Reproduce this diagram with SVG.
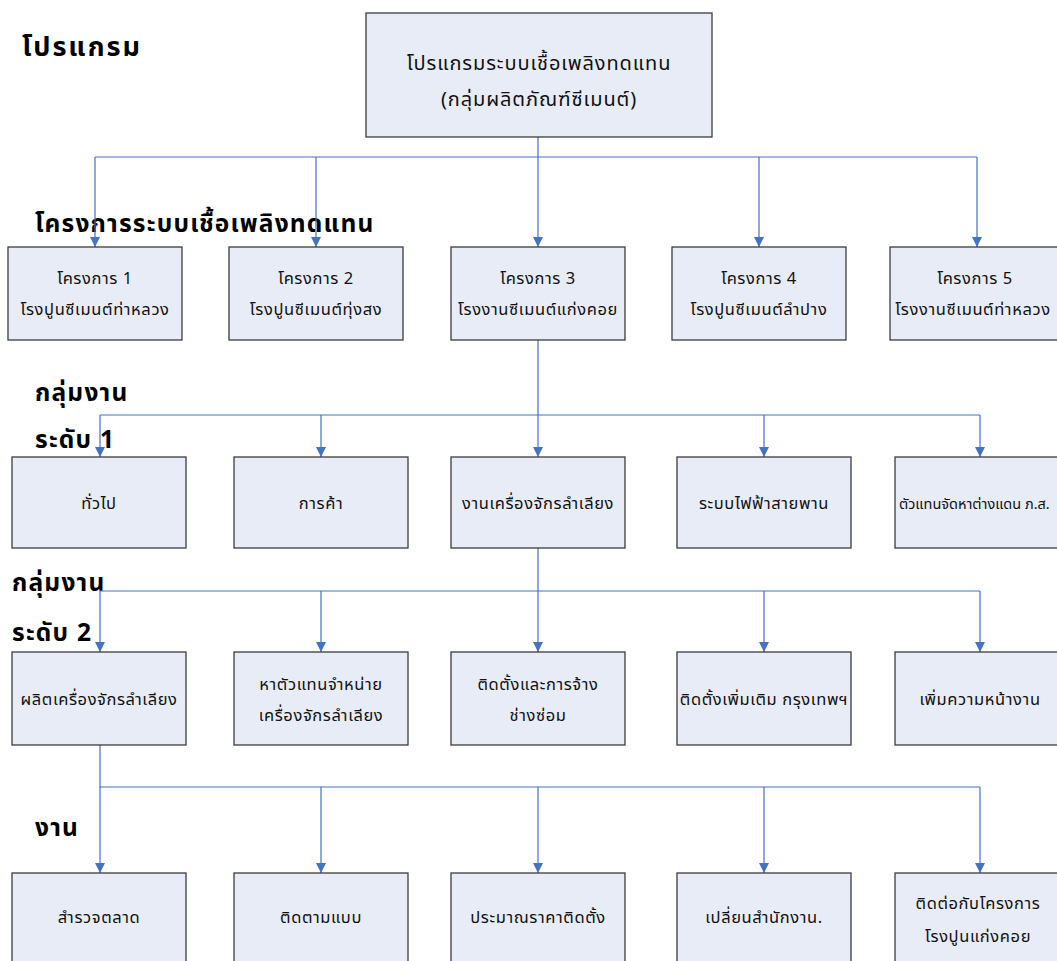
<svg xmlns="http://www.w3.org/2000/svg" width="1057" height="961" viewBox="0 0 1057 961">
  <style>
    .box { fill: #E8ECF7; stroke: #3C3C3C; stroke-width: 1.3; }
    .lbl { font-family: "Noto Sans Thai", "Tahoma", "Noto Sans", "DejaVu Sans", sans-serif; font-size: 16.5px; letter-spacing: 0.6px; fill: #111; text-anchor: middle; }
    .top { font-size: 20px; letter-spacing: 0.9px; }
    .hdr { font-family: "Noto Sans Thai", "Tahoma", "Noto Sans", "DejaVu Sans", sans-serif; font-size: 24.5px; letter-spacing: 1.2px; font-weight: bold; fill: #000; }
    .wire { fill: none; stroke: #4472C4; stroke-width: 1.2; }
  </style>
  <defs>
    <marker id="arrow" viewBox="0 0 10 10" refX="10" refY="5" markerWidth="10" markerHeight="10" markerUnits="userSpaceOnUse" orient="auto">
      <path d="M0,0 L10,5 L0,10 z" fill="#4472C4"/>
    </marker>
  </defs>
  <rect width="1057" height="961" fill="#FFFFFF"/>

  <!-- level headings -->
  <g id="headings">
    <text class="hdr" x="22" y="56" style="font-size:27px;letter-spacing:2px">โปรแกรม</text>
    <text class="hdr" x="35" y="232">โครงการระบบเชื้อเพลิงทดแทน</text>
    <text class="hdr" x="35" y="401">กลุ่มงาน</text>
    <text class="hdr" x="35" y="448">ระดับ 1</text>
    <text class="hdr" x="12" y="591">กลุ่มงาน</text>
    <text class="hdr" x="12" y="641">ระดับ 2</text>
    <text class="hdr" x="35" y="836">งาน</text>
  </g>

  <!-- connectors -->
  <g id="connectors" class="wire">
    <path d="M538,137 V157 M95,157 H977"/>
    <path d="M95,157 V247" marker-end="url(#arrow)"/>
    <path d="M316,157 V247" marker-end="url(#arrow)"/>
    <path d="M538,157 V247" marker-end="url(#arrow)"/>
    <path d="M759,157 V247" marker-end="url(#arrow)"/>
    <path d="M977,157 V247" marker-end="url(#arrow)"/>

    <path d="M538,340 V415 M100,415 H980"/>
    <path d="M100,415 V457" marker-end="url(#arrow)"/>
    <path d="M321,415 V457" marker-end="url(#arrow)"/>
    <path d="M538,415 V457" marker-end="url(#arrow)"/>
    <path d="M764,415 V457" marker-end="url(#arrow)"/>
    <path d="M980,415 V457" marker-end="url(#arrow)"/>

    <path d="M538,548 V591 M100,591 H980"/>
    <path d="M100,591 V652" marker-end="url(#arrow)"/>
    <path d="M321,591 V652" marker-end="url(#arrow)"/>
    <path d="M538,591 V652" marker-end="url(#arrow)"/>
    <path d="M764,591 V652" marker-end="url(#arrow)"/>
    <path d="M980,591 V652" marker-end="url(#arrow)"/>

    <path d="M100,745 V787 H980"/>
    <path d="M100,787 V873" marker-end="url(#arrow)"/>
    <path d="M321,787 V873" marker-end="url(#arrow)"/>
    <path d="M538,787 V873" marker-end="url(#arrow)"/>
    <path d="M764,787 V873" marker-end="url(#arrow)"/>
    <path d="M980,787 V873" marker-end="url(#arrow)"/>
  </g>

  <!-- programme -->
  <g id="program">
    <rect class="box" x="366" y="13" width="346" height="124"/>
    <text class="lbl top" x="539" y="70">โปรแกรมระบบเชื้อเพลิงทดแทน</text>
    <text class="lbl top" x="539" y="106">(กลุ่มผลิตภัณฑ์ซีเมนต์)</text>
  </g>

  <!-- projects -->
  <g id="project1">
    <rect class="box" x="8" y="247" width="174" height="93"/>
    <text class="lbl" x="95" y="284">โครงการ 1</text>
    <text class="lbl" x="95" y="315">โรงปูนซีเมนต์ท่าหลวง</text>
  </g>
  <g id="project2">
    <rect class="box" x="229" y="247" width="174" height="93"/>
    <text class="lbl" x="316" y="284">โครงการ 2</text>
    <text class="lbl" x="316" y="315">โรงปูนซีเมนต์ทุ่งสง</text>
  </g>
  <g id="project3">
    <rect class="box" x="451" y="247" width="174" height="93"/>
    <text class="lbl" x="538" y="284">โครงการ 3</text>
    <text class="lbl" x="538" y="315">โรงงานซีเมนต์แก่งคอย</text>
  </g>
  <g id="project4">
    <rect class="box" x="672" y="247" width="174" height="93"/>
    <text class="lbl" x="759" y="284">โครงการ 4</text>
    <text class="lbl" x="759" y="315">โรงปูนซีเมนต์ลำปาง</text>
  </g>
  <g id="project5">
    <rect class="box" x="890" y="247" width="174" height="93"/>
    <text class="lbl" x="975" y="284">โครงการ 5</text>
    <text class="lbl" x="973" y="315">โรงงานซีเมนต์ท่าหลวง</text>
  </g>

  <!-- work groups, level 1 -->
  <g id="group1-1">
    <rect class="box" x="12" y="457" width="174" height="91"/>
    <text class="lbl" x="99" y="509">ทั่วไป</text>
  </g>
  <g id="group1-2">
    <rect class="box" x="234" y="457" width="174" height="91"/>
    <text class="lbl" x="321" y="509">การค้า</text>
  </g>
  <g id="group1-3">
    <rect class="box" x="451" y="457" width="174" height="91"/>
    <text class="lbl" x="538" y="509">งานเครื่องจักรลำเลียง</text>
  </g>
  <g id="group1-4">
    <rect class="box" x="677" y="457" width="174" height="91"/>
    <text class="lbl" x="764" y="509">ระบบไฟฟ้าสายพาน</text>
  </g>
  <g id="group1-5">
    <rect class="box" x="895" y="457" width="174" height="91"/>
    <text class="lbl" x="899" y="509" style="text-anchor:start;letter-spacing:0;font-size:14.5px">ตัวแทนจัดหาต่างแดน ภ.ส.</text>
  </g>

  <!-- work groups, level 2 -->
  <g id="group2-1">
    <rect class="box" x="12" y="652" width="174" height="93"/>
    <text class="lbl" x="99" y="705">ผลิตเครื่องจักรลำเลียง</text>
  </g>
  <g id="group2-2">
    <rect class="box" x="234" y="652" width="174" height="93"/>
    <text class="lbl" x="321" y="690">หาตัวแทนจำหน่าย</text>
    <text class="lbl" x="321" y="721">เครื่องจักรลำเลียง</text>
  </g>
  <g id="group2-3">
    <rect class="box" x="451" y="652" width="174" height="93"/>
    <text class="lbl" x="538" y="690">ติดตั้งและการจ้าง</text>
    <text class="lbl" x="538" y="721">ช่างซ่อม</text>
  </g>
  <g id="group2-4">
    <rect class="box" x="677" y="652" width="174" height="93"/>
    <text class="lbl" x="764" y="705">ติดตั้งเพิ่มเติม กรุงเทพฯ</text>
  </g>
  <g id="group2-5">
    <rect class="box" x="895" y="652" width="174" height="93"/>
    <text class="lbl" x="980" y="705">เพิ่มความหน้างาน</text>
  </g>

  <!-- tasks -->
  <g id="task1">
    <rect class="box" x="12" y="873" width="174" height="100"/>
    <text class="lbl" x="99" y="923">สำรวจตลาด</text>
  </g>
  <g id="task2">
    <rect class="box" x="234" y="873" width="174" height="100"/>
    <text class="lbl" x="321" y="923">ติดตามแบบ</text>
  </g>
  <g id="task3">
    <rect class="box" x="451" y="873" width="174" height="100"/>
    <text class="lbl" x="538" y="923">ประมาณราคาติดตั้ง</text>
  </g>
  <g id="task4">
    <rect class="box" x="677" y="873" width="174" height="100"/>
    <text class="lbl" x="764" y="923">เปลี่ยนสำนักงาน.</text>
  </g>
  <g id="task5">
    <rect class="box" x="895" y="873" width="174" height="100"/>
    <text class="lbl" x="978" y="909">ติดต่อกับโครงการ</text>
    <text class="lbl" x="978" y="942">โรงปูนแก่งคอย</text>
  </g>
</svg>
